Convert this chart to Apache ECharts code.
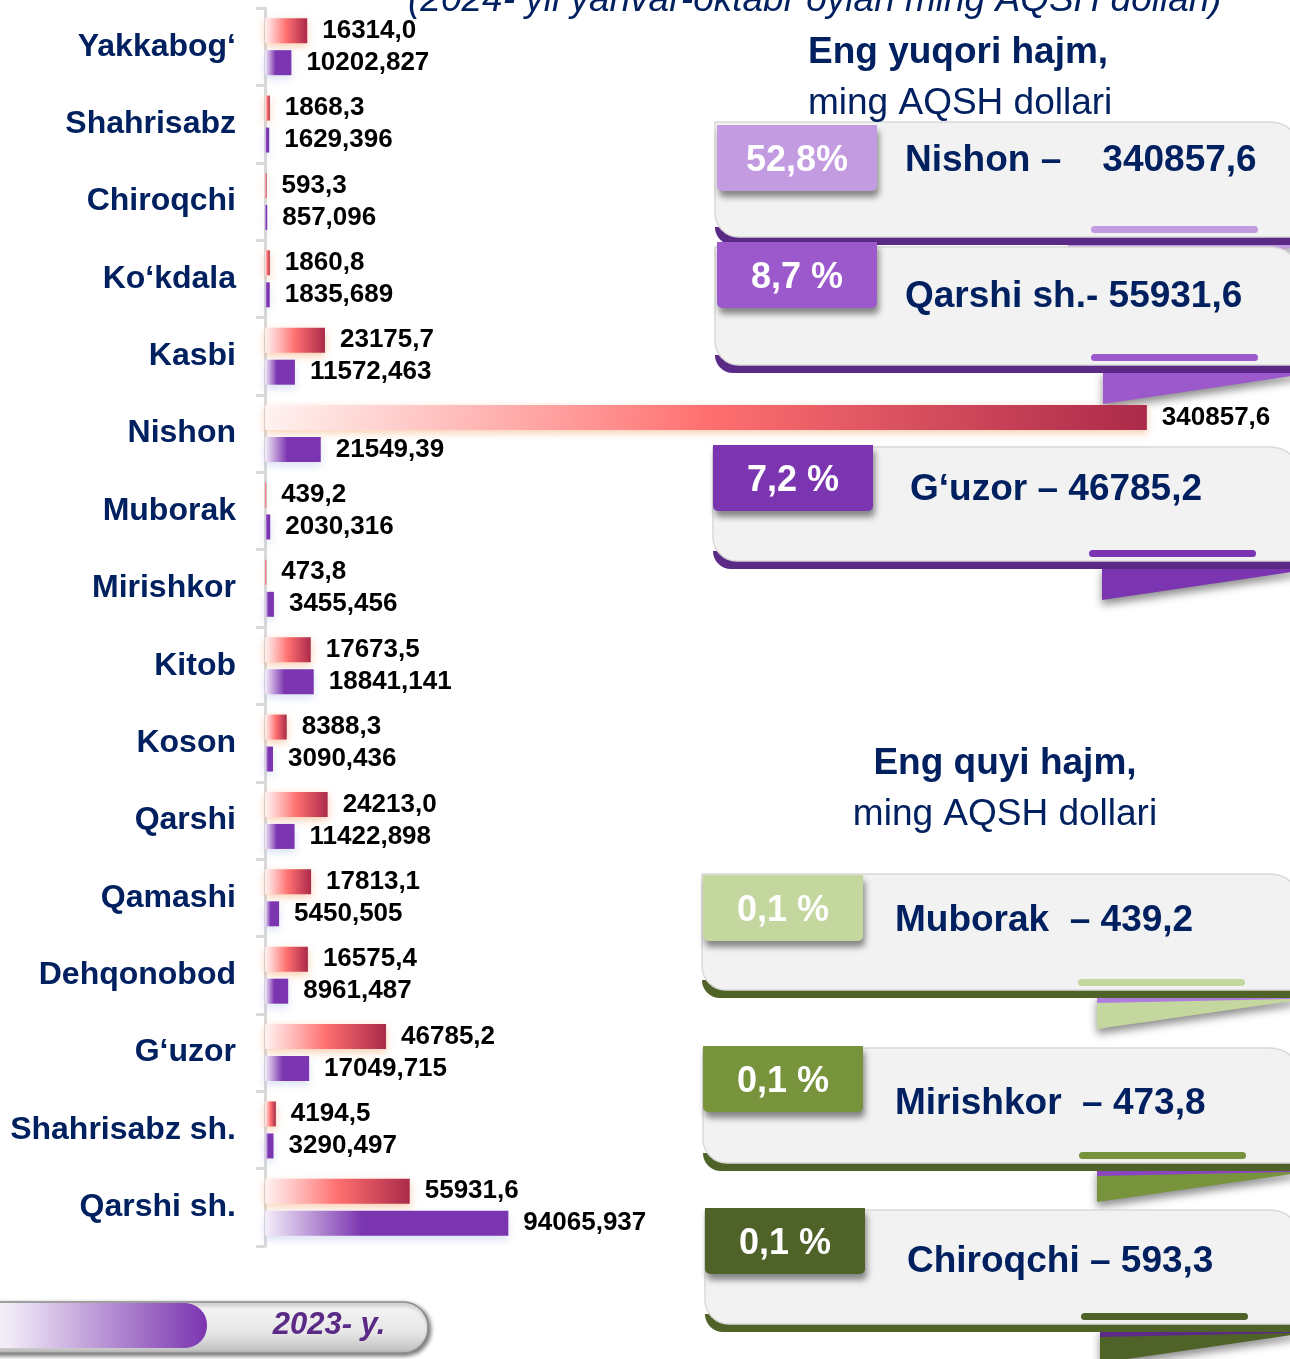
<!DOCTYPE html>
<html>
<head>
<meta charset="utf-8">
<title>Tumanlar kesimida hajm</title>
<script src="https://cdn.jsdelivr.net/npm/echarts@6/dist/echarts.min.js"></script>
<style>
  html, body { margin: 0; padding: 0; background: #ffffff; }
  #chart { width: 1290px; height: 1359px; }
</style>
</head>
<body>
<div id="chart"></div>
<script>
// Districts, top to bottom
const categories = [
  'Yakkabog‘', 'Shahrisabz', 'Chiroqchi', 'Ko‘kdala', 'Kasbi', 'Nishon',
  'Muborak', 'Mirishkor', 'Kitob', 'Koson', 'Qarshi', 'Qamashi',
  'Dehqonobod', 'G‘uzor', 'Shahrisabz sh.', 'Qarshi sh.'
];

// 2024, January–October, thousand USD
const values2024 = [
  16314.0, 1868.3, 593.3, 1860.8, 23175.7, 340857.6,
  439.2, 473.8, 17673.5, 8388.3, 24213.0, 17813.1,
  16575.4, 46785.2, 4194.5, 55931.6
];

// 2023, thousand USD
const values2023 = [
  10202.827, 1629.396, 857.096, 1835.689, 11572.463, 21549.39,
  2030.316, 3455.456, 18841.141, 3090.436, 11422.898, 5450.505,
  8961.487, 17049.715, 3290.497, 94065.937
];

// Highest and lowest volume cards
const highShares = ['52,8%', '8,7 %', '7,2 %'];
const highNames = ['Nishon –    340857,6', 'Qarshi sh.- 55931,6', 'G‘uzor – 46785,2'];
const lowShares = ['0,1 %', '0,1 %', '0,1 %'];
const lowNames = ['Muborak  – 439,2', 'Mirishkor  – 473,8', 'Chiroqchi – 593,3'];

const legendText = '2023- y.';
const titleText = '(2024- yil yanvar-oktabr oylari ming AQSH dollari)';

const FONT = "'Liberation Sans', Arial, Helvetica, sans-serif";
const NAVY = '#002060';

const fmtComma = v => String(v).replace('.', ',');

// ---- card decorations -------------------------------------------------
const RIGHT = 1302;
function card(c) {
  const els = [];
  // folded ribbon tail under the card
  els.push({
    type: 'polygon',
    shape: { points: [[c.foldX, c.bottom - 3], [RIGHT, c.bottom - 3], [1292, c.bottom + 3], [c.foldX, c.bottom + 31]] },
    style: { fill: c.fold, shadowBlur: 8, shadowOffsetY: 5, shadowColor: 'rgba(0,0,0,0.45)' }
  });
  if (c.sliver) {
    els.push({
      type: 'polygon',
      shape: { points: [[c.foldX, c.bottom - 2], [1292, c.bottom - 2], [1292, c.bottom + 1], [c.foldX, c.bottom + 5]] },
      style: { fill: c.sliver }
    });
  }
  // dark curled edge
  els.push({
    type: 'rect',
    shape: { x: c.x, y: c.bottom - 18, width: RIGHT - c.x, height: 18, r: [0, 0, 0, 24] },
    style: { fill: c.strip }
  });
  // card body
  els.push({
    type: 'rect',
    shape: { x: c.x, y: c.top, width: RIGHT - c.x, height: c.bottom - 8 - c.top, r: [0, 32, 0, 24] },
    style: { fill: '#f2f2f2', stroke: '#d9d9d9', lineWidth: 1.5 }
  });
  // small accent line
  els.push({
    type: 'rect',
    shape: { x: c.x + 376, y: c.bottom - 19, width: 167, height: 7, r: 3.5 },
    style: { fill: c.badge }
  });
  // percentage badge
  els.push({
    type: 'rect',
    shape: { x: c.bx, y: c.by, width: 160, height: 66, r: [0, 0, 5, 5] },
    style: { fill: c.badge, shadowBlur: 6, shadowOffsetX: 2, shadowOffsetY: 6, shadowColor: 'rgba(0,0,0,0.45)' }
  });
  els.push({
    type: 'text',
    x: c.bx + 80, y: c.by + 36,
    style: { text: c.share, font: 'bold 36px ' + FONT, fill: '#ffffff', align: 'center', verticalAlign: 'middle' }
  });
  els.push({
    type: 'text',
    x: c.textX, y: c.textY,
    style: { text: c.name, font: 'bold 37px ' + FONT, fill: NAVY, align: 'left', verticalAlign: 'middle' }
  });
  return els;
}

const cardSpecs = [
  { x: 715, top: 122, bottom: 245, bx: 717, by: 125, badge: '#c39be0', strip: '#5b2a86', fold: '#c39be0', foldX: 1068,
    share: highShares[0], name: highNames[0], textX: 905, textY: 161 },
  { x: 715, top: 247, bottom: 373, bx: 717, by: 242, badge: '#9b59cc', strip: '#5b2a86', fold: '#9b59cc', foldX: 1103,
    share: highShares[1], name: highNames[1], textX: 905, textY: 297 },
  { x: 713, top: 447, bottom: 569, bx: 713, by: 445, badge: '#7b35b0', strip: '#5b2a86', fold: '#7b35b0', foldX: 1102,
    share: highShares[2], name: highNames[2], textX: 910, textY: 490 },
  { x: 702, top: 874, bottom: 998, bx: 703, by: 875, badge: '#c4d79e', strip: '#4f6228', fold: '#c4d79e', foldX: 1097,
    sliver: '#b07ee0', share: lowShares[0], name: lowNames[0], textX: 895, textY: 921 },
  { x: 703, top: 1048, bottom: 1171, bx: 703, by: 1046, badge: '#77933c', strip: '#4f6228', fold: '#77933c', foldX: 1097,
    sliver: '#8a44c0', share: lowShares[1], name: lowNames[1], textX: 895, textY: 1104 },
  { x: 705, top: 1210, bottom: 1332, bx: 705, by: 1208, badge: '#4f6228', strip: '#4f6228', fold: '#4f6228', foldX: 1100,
    sliver: '#5b2a86', share: lowShares[2], name: lowNames[2], textX: 907, textY: 1262 }
];

let graphics = [];
cardSpecs.forEach(c => { graphics = graphics.concat(card(c)); });

// headings
graphics.push(
  { type: 'text', x: 408, y: 1,
    style: { text: titleText, font: 'italic 37px ' + FONT, fill: NAVY, align: 'left', verticalAlign: 'middle' } },
  { type: 'text', x: 808, y: 53,
    style: { text: 'Eng yuqori hajm,', font: 'bold 37px ' + FONT, fill: NAVY, align: 'left', verticalAlign: 'middle' } },
  { type: 'text', x: 808, y: 104,
    style: { text: 'ming AQSH dollari', font: '37px ' + FONT, fill: NAVY, align: 'left', verticalAlign: 'middle' } },
  { type: 'text', x: 1005, y: 764,
    style: { text: 'Eng quyi hajm,', font: 'bold 37px ' + FONT, fill: NAVY, align: 'center', verticalAlign: 'middle' } },
  { type: 'text', x: 1005, y: 815,
    style: { text: 'ming AQSH dollari', font: '37px ' + FONT, fill: NAVY, align: 'center', verticalAlign: 'middle' } }
);

// series key capsule (bottom left)
graphics.push(
  { type: 'rect',
    shape: { x: -40, y: 1302, width: 468, height: 51, r: 25 },
    style: {
      fill: new echarts.graphic.LinearGradient(0, 0, 0, 1, [
        { offset: 0, color: '#f7f7f7' }, { offset: 0.6, color: '#e6e6e6' }, { offset: 1, color: '#bdbdbd' }
      ]),
      stroke: '#8c8c8c', lineWidth: 1.5,
      shadowBlur: 4, shadowOffsetX: 2, shadowOffsetY: 2, shadowColor: 'rgba(0,0,0,0.55)'
    } },
  { type: 'rect',
    shape: { x: -40, y: 1303, width: 247, height: 45, r: [0, 22, 22, 0] },
    style: {
      fill: new echarts.graphic.LinearGradient(0, 0, 1, 0, [
        { offset: 0, color: '#ffffff' }, { offset: 0.2, color: '#f1eaf7' }, { offset: 1, color: '#7b35b0' }
      ])
    } },
  { type: 'text', x: 329, y: 1325,
    style: { text: legendText, font: 'italic bold 31px ' + FONT, fill: '#5b2a86', align: 'center', verticalAlign: 'middle' } }
);

// ---- chart ------------------------------------------------------------
const chart = echarts.init(document.getElementById('chart'), null, { renderer: 'canvas' });

const redFill = new echarts.graphic.LinearGradient(0, 0, 1, 0, [
  { offset: 0, color: 'rgba(255,245,245,0.9)' },
  { offset: 0.5, color: '#ff7070' },
  { offset: 1, color: '#ab2a4a' }
]);
const purpleFill = new echarts.graphic.LinearGradient(0, 0, 1, 0, [
  { offset: 0, color: '#f4eef9' },
  { offset: 0.4, color: '#7b35b0' },
  { offset: 1, color: '#7b35b0' }
]);

const valueLabel = fmt => ({
  show: true,
  position: 'right',
  distance: 15,
  fontFamily: FONT,
  fontWeight: 'bold',
  fontSize: 26,
  color: '#000000',
  formatter: p => fmt(p.value)
});

chart.setOption({
  animation: false,
  backgroundColor: '#ffffff',
  grid: { left: 265, top: 8, width: 1009, height: 1238, containLabel: false },
  xAxis: {
    type: 'value', min: 0, max: 390000, show: false
  },
  yAxis: {
    type: 'category',
    inverse: true,
    data: categories,
    axisLine: { show: true, lineStyle: { color: '#d9d9d9', width: 3 } },
    axisTick: { show: true, length: 9, lineStyle: { color: '#d9d9d9', width: 3 } },
    axisLabel: {
      margin: 29,
      fontFamily: FONT,
      fontWeight: 'bold',
      fontSize: 32,
      color: NAVY
    },
    splitLine: { show: false }
  },
  series: [
    {
      name: '2024',
      type: 'bar',
      data: values2024,
      barWidth: 25,
      barGap: '28%',
      itemStyle: {
        color: redFill,
        shadowColor: 'rgba(245,140,70,0.45)', shadowBlur: 8, shadowOffsetY: 3
      },
      label: valueLabel(v => Number(v).toFixed(1).replace('.', ','))
    },
    {
      name: '2023',
      type: 'bar',
      data: values2023,
      barWidth: 25,
      barGap: '28%',
      itemStyle: {
        color: purpleFill,
        shadowColor: 'rgba(140,160,220,0.3)', shadowBlur: 8, shadowOffsetY: 4
      },
      label: valueLabel(fmtComma)
    }
  ],
  graphic: { elements: graphics }
});
</script>
</body>
</html>
